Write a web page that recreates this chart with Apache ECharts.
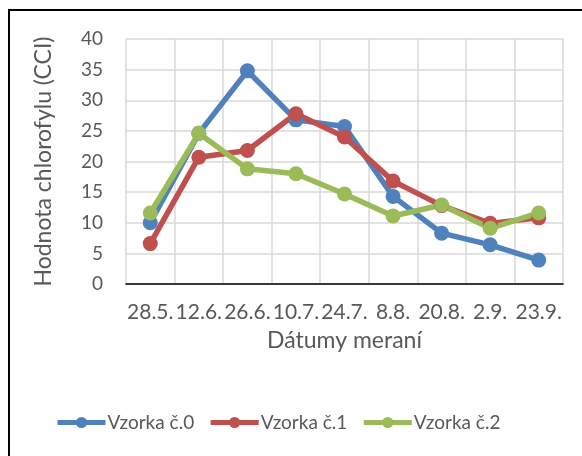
<!DOCTYPE html>
<html>
<head>
<meta charset="utf-8">
<script src="https://cdn.jsdelivr.net/npm/echarts@6/dist/echarts.min.js"></script>
<style>
	html, body { margin: 0; padding: 0; background: #fff; }
	#chart { width: 582px; height: 456px; }
</style>
</head>
<body>
<div id="chart"></div>
<script>
const dates = ['28.5.', '12.6.', '26.6.', '10.7.', '24.7.', '8.8.', '20.8.', '2.9.', '23.9.']
const vzorka0 = [10.0, 24.6, 34.8, 26.8, 25.7, 14.3, 8.3, 6.4, 3.9]
const vzorka1 = [6.6, 20.7, 21.8, 27.8, 24.0, 16.8, 12.8, 9.9, 10.8]
const vzorka2 = [11.6, 24.6, 18.8, 18.0, 14.7, 11.1, 12.9, 9.1, 11.6]
const seriesNames = ['Vzorka č.0', 'Vzorka č.1', 'Vzorka č.2']
const colors = ['#4f81bd', '#c0504d', '#9bbb59']

const font = 'Lato'
const textColor = '#595959'

const chart = echarts.init(document.getElementById('chart'))

const makeSeries = (name, data, color) => ({
	name,
	type: 'line',
	data,
	symbol: 'circle',
	symbolSize: 15,
	itemStyle: { color },
	lineStyle: { color, width: 5.5 },
	emphasis: { disabled: true },
})

chart.setOption({
	animation: false,
	textStyle: { fontFamily: font },
	grid: { left: 126, right: 19, top: 39, bottom: 172, containLabel: false },
	xAxis: {
		type: 'category',
		data: dates,
		boundaryGap: true,
		axisLine: { lineStyle: { color: '#000', width: 1.5 } },
		axisTick: { show: false },
		axisLabel: { color: textColor, fontSize: 21, fontFamily: font, margin: 18, interval: 0 },
		splitLine: { show: true, lineStyle: { color: '#d9d9d9', width: 1.5 } },
		name: 'Dátumy meraní',
		nameLocation: 'middle',
		nameGap: 45,
		nameTextStyle: { color: textColor, fontSize: 23, fontFamily: font },
	},
	yAxis: {
		type: 'value',
		min: 0,
		max: 40,
		interval: 5,
		axisLine: { show: false },
		axisTick: { show: false },
		axisLabel: { color: textColor, fontSize: 19, fontFamily: font, margin: 23 },
		splitLine: { lineStyle: { color: '#d9d9d9', width: 1.5 } },
		name: 'Hodnota chlorofylu (CCI)',
		nameLocation: 'middle',
		nameGap: 71,
		nameTextStyle: { color: textColor, fontSize: 23, fontFamily: font },
	},
	legend: {
		data: seriesNames,
		left: 50,
		top: 408,
		itemWidth: 48,
		itemHeight: 14,
		itemGap: 14,
		lineStyle: { width: 5 },
		textStyle: { color: textColor, fontSize: 19, fontFamily: font, padding: [0, 0, 0, -3] },
	},
	graphic: [{
		type: 'rect',
		shape: { x: 9, y: 10, width: 700, height: 700 },
		style: { fill: 'none', stroke: '#000', lineWidth: 2 },
		silent: true,
	}],
	series: [
		makeSeries(seriesNames[0], vzorka0, colors[0]),
		makeSeries(seriesNames[1], vzorka1, colors[1]),
		makeSeries(seriesNames[2], vzorka2, colors[2]),
	],
})
</script>
</body>
</html>
